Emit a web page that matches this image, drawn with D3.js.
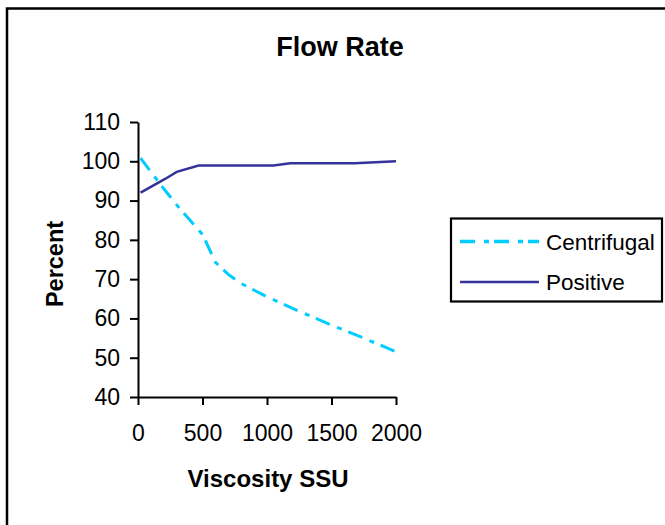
<!DOCTYPE html>
<html>
<head>
<meta charset="utf-8">
<script src="https://cdn.jsdelivr.net/npm/d3@7"></script>
<style>
  html, body { margin: 0; padding: 0; background: #fff; }
  svg { display: block; font-family: "Liberation Sans", Arial, sans-serif; }
</style>
</head>
<body>
<svg id="chart" width="665" height="525"></svg>
<script>
// ---- data ----
const title = "Flow Rate";
const xTitle = "Viscosity SSU";
const yTitle = "Percent";
const xTicks = [0, 500, 1000, 1500, 2000];
const yTicks = [40, 50, 60, 70, 80, 90, 100, 110];

const centrifugalX = [20, 100, 200, 300, 400, 500, 600, 700, 800, 1000, 1250, 1500, 1750, 2000];
const centrifugalY = [100.8, 97.3, 93, 88.9, 85.1, 81.4, 74.3, 71.2, 68.9, 65.5, 61.8, 58.3, 55, 51.5];

const positiveX = [20, 210, 300, 470, 1050, 1180, 1680, 2000];
const positiveY = [92, 95.5, 97.3, 98.9, 98.9, 99.5, 99.5, 100];

const seriesNames = ["Centrifugal", "Positive"];
const seriesColors = ["#00CCFF", "#333399"];

// ---- layout ----
const svg = d3.select("#chart");
const tickFs = 23;
const font = '"Liberation Sans", Arial, sans-serif';

svg.append("rect").attr("x", 0).attr("y", 0).attr("width", 665).attr("height", 525).attr("fill", "#fff");
svg.append("rect").attr("x", 7).attr("y", 8.5).attr("width", 700).attr("height", 560)
  .attr("fill", "none").attr("stroke", "#000").attr("stroke-width", 2.5);

const x = d3.scaleLinear().domain([0, 2000]).range([138, 396]);
const y = d3.scaleLinear().domain([40, 110]).range([397, 122]);

// title
svg.append("text").attr("x", 340).attr("y", 56).attr("text-anchor", "middle")
  .attr("font-size", 27).attr("font-weight", "bold").text(title);

// axes
const yAxis = d3.axisLeft(y).tickValues(yTicks).tickFormat(d3.format("d"))
  .tickSize(8).tickSizeOuter(0).tickPadding(10);
const xAxis = d3.axisBottom(x).tickValues(xTicks).tickFormat(d3.format("d"))
  .tickSize(8).tickSizeOuter(0).tickPadding(21);

const gy = svg.append("g").attr("transform", `translate(${x(0)},0)`).call(yAxis);
const gx = svg.append("g").attr("transform", `translate(0,${y(40)})`).call(xAxis);
[gx, gy].forEach(g => {
  g.attr("font-family", font).attr("font-size", tickFs);
  g.selectAll("path, line").attr("stroke", "#000").attr("stroke-width", 2);
  g.selectAll("text").attr("font-size", tickFs).attr("fill", "#000");
});
gx.selectAll("text").attr("dy", "0.66em");

// axis titles
svg.append("text").attr("x", 268).attr("y", 487).attr("text-anchor", "middle")
  .attr("font-size", 24).attr("font-weight", "bold").text(xTitle);
svg.append("text").attr("transform", "translate(63,264) rotate(-90)").attr("text-anchor", "middle")
  .attr("font-size", 23.5).attr("font-weight", "bold").text(yTitle);

// lines
const line = d3.line().x(d => x(d[0])).y(d => y(d[1]));
const centData = centrifugalX.map((v, i) => [v, centrifugalY[i]]);
const posData = positiveX.map((v, i) => [v, positiveY[i]]);

svg.append("path").datum(posData).attr("d", line).attr("fill", "none")
  .attr("stroke", seriesColors[1]).attr("stroke-width", 2.5);
svg.append("path").datum(centData).attr("d", line).attr("fill", "none")
  .attr("stroke", seriesColors[0]).attr("stroke-width", 3)
  .attr("stroke-dasharray", "15,8,5,7");

// legend
svg.append("rect").attr("x", 451).attr("y", 218.5).attr("width", 211).attr("height", 83)
  .attr("fill", "#fff").attr("stroke", "#000").attr("stroke-width", 2.2);
const legY = [241.5, 282];
seriesNames.forEach((name, i) => {
  const l = svg.append("line").attr("x1", 460).attr("x2", 539).attr("y1", legY[i]).attr("y2", legY[i])
    .attr("stroke", seriesColors[i]).attr("stroke-width", i === 0 ? 3.5 : 2.5);
  if (i === 0) l.attr("stroke-dasharray", "15,9,5,5");
  svg.append("text").attr("x", 546).attr("y", legY[i] + 8).attr("font-size", 22.5).text(name);
});
</script>
</body>
</html>
